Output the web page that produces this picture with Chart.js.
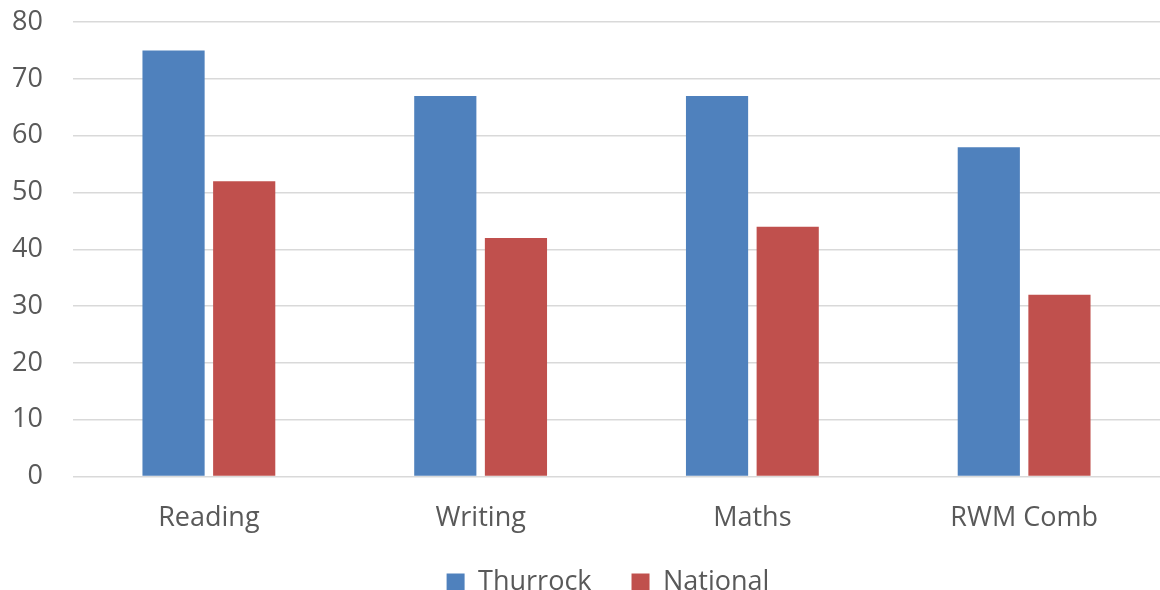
<!DOCTYPE html>
<html>
<head>
<meta charset="utf-8">
<script src="https://cdn.jsdelivr.net/npm/chart.js@4/dist/chart.umd.min.js"></script>
<style>
  html, body { margin: 0; padding: 0; overflow: hidden; background: #fff; }
  #wrap { position: relative; top: -24px; width: 1160px; height: 654px; }
</style>
</head>
<body>
<div id="wrap"><canvas id="chart"></canvas></div>
<script>
var categories = ["Reading", "Writing", "Maths", "RWM Comb"];
var thurrock = [75, 67, 67, 58];
var national = [52, 42, 44, 32];
var seriesNames = ["Thurrock", "National"];

Chart.defaults.font.family = "'Open Sans', sans-serif";
Chart.defaults.color = "#595959";

// legend sits a bit right of centre and close under the labels in the original
var legendShift = {
  id: "legendShift",
  afterLayout: function(chart) {
    chart.legend.left += 28;
    chart.legend.right += 28;
    chart.legend.top -= 24;
    chart.legend.bottom -= 24;
  }
};

new Chart(document.getElementById("chart"), {
  type: "bar",
  data: {
    labels: categories,
    datasets: [
      { label: seriesNames[0], data: thurrock, backgroundColor: "#4F81BD" },
      { label: seriesNames[1], data: national, backgroundColor: "#C0504D" }
    ]
  },
  options: {
    responsive: true,
    maintainAspectRatio: false,
    animation: false,
    categoryPercentage: 0.52,
    barPercentage: 0.88,
    layout: { padding: { top: 0, left: 0, right: 0, bottom: 0 } },
    plugins: {
      tooltip: { enabled: false },
      legend: {
        position: "bottom",
        labels: {
          boxWidth: 18,
          boxHeight: 18,
          padding: 40,
          font: { size: 27 }
        }
      }
    },
    scales: {
      x: {
        grid: { display: false },
        border: { display: false },
        ticks: { font: { size: 27 }, padding: 18 }
      },
      y: {
        min: 0,
        max: 80,
        afterFit: function(axis) { axis.width = 73; },
        ticks: { stepSize: 10, font: { size: 27 }, padding: 30 },
        grid: { color: "#D9D9D9", lineWidth: 1.5, drawTicks: false },
        border: { display: false }
      }
    }
  },
  plugins: [legendShift]
});
</script>
</body>
</html>
